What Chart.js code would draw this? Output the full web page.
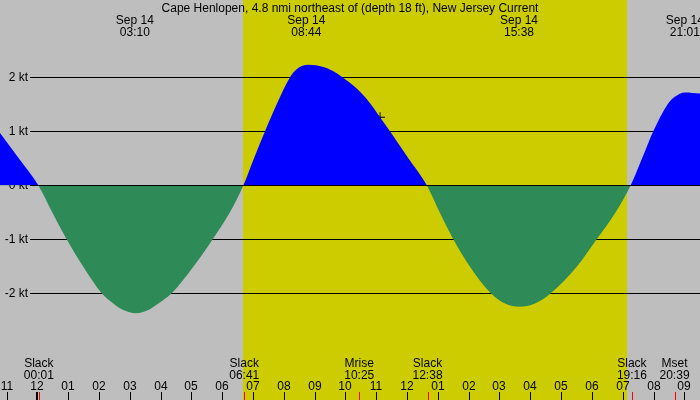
<!DOCTYPE html>
<html lang="en">
<head>
  <meta charset="UTF-8">
  <title>Cape Henlopen current</title>
  <script src="https://cdn.jsdelivr.net/npm/chart.js"></script>
  <style>
    body { margin: 0; background: #bebebe; }
    canvas { display: block; }
  </style>
</head>
<body>

<canvas id="tideChart" width="700" height="400"></canvas>

<script>
  const title = "Cape Henlopen, 4.8 nmi northeast of (depth 18 ft), New Jersey Current";
  const dateLabel = "Sep 14";

  // hours since Sep 14 00:00, current in knots
  const hours = [-1.211, -0.561, 0.032, 0.5, 0.954, 1.493, 2.09, 2.467, 2.791, 3.2, 3.603, 3.927, 4.362, 5.063, 5.693, 6.232, 6.69,
                 7.034, 7.391, 7.77, 8.202, 8.419, 8.796, 9.283, 9.607, 9.88, 10.367, 10.798, 11.123, 11.447, 12.042, 12.64,
                 13.074, 13.502, 14.044, 14.716, 15.18, 15.65, 16.154, 16.664, 17.507, 18.156, 18.75, 19.26,
                 19.63, 19.993, 20.48, 20.69, 21.02, 21.509];
  const speeds = [0.97, 0.47, 0, -0.52, -1.0, -1.51, -2.0, -2.19, -2.31, -2.37, -2.31, -2.19, -2.0, -1.51, -1.0, -0.52, 0,
                  0.5, 1.0, 1.5, 2.0, 2.15, 2.23, 2.19, 2.11, 2.01, 1.79, 1.52, 1.26, 1.0, 0.5, 0,
                  -0.52, -1.0, -1.51, -2.0, -2.19, -2.25, -2.19, -2.0, -1.51, -1.0, -0.52, 0,
                  0.5, 1.0, 1.52, 1.64, 1.72, 1.70];

  const maxTimes = ['03:10', '08:44', '15:38', '21:01'];
  const eventTimes = ['00:01', '06:41', '10:25', '12:38', '19:16', '20:39'];
  const eventNames = ['Slack', 'Slack', 'Mrise', 'Slack', 'Slack', 'Mset'];
  const tickHours = [-1, 0, 1, 2, 3, 4, 5, 6, 7, 8, 9, 10, 11, 12, 13, 14, 15, 16, 17, 18, 19, 20, 21];
  const tickLabels = ['11', '12', '01', '02', '03', '04', '05', '06', '07', '08', '09', '10',
                      '11', '12', '01', '02', '03', '04', '05', '06', '07', '08', '09'];
  const ktLevels = [2, 1, 0, -1, -2];
  const sunrise = '06:41';
  const sunset = '19:08';
  const nowMark = { x: 11.124, y: 1.26 };

  const toHours = s => { const p = s.split(':'); return +p[0] + p[1] / 60; };
  const font = '12px "Liberation Sans", Arial, sans-serif';

  const backdrop = {
    id: 'backdrop',
    beforeDraw(chart) {
      const { ctx, scales: { x } } = chart;
      ctx.save();
      ctx.fillStyle = '#bebebe';
      ctx.fillRect(0, 0, chart.width, chart.height);
      const x1 = Math.round(x.getPixelForValue(toHours(sunrise)));
      const x2 = Math.round(x.getPixelForValue(toHours(sunset)));
      ctx.fillStyle = '#cccc00';
      ctx.fillRect(x1, 0, x2 - x1, chart.height);
      ctx.restore();
    },
    beforeDatasetsDraw(chart) {
      const { ctx, scales: { y } } = chart;
      ctx.save();
      ctx.font = font;
      ctx.fillStyle = '#000';
      ctx.strokeStyle = '#000';
      ctx.lineWidth = 1;
      ctx.textAlign = 'right';
      ctx.textBaseline = 'middle';
      ktLevels.forEach(k => {
        const py = Math.round(y.getPixelForValue(k)) + 0.5;
        ctx.beginPath();
        ctx.moveTo(30, py);
        ctx.lineTo(chart.width, py);
        ctx.stroke();
        ctx.fillText(k + ' kt', 28, py);
      });
      ctx.restore();
    },
    afterDatasetsDraw(chart) {
      const { ctx, scales: { x, y } } = chart;
      ctx.save();
      ctx.strokeStyle = '#000';
      ctx.lineWidth = 1;
      const py = Math.round(y.getPixelForValue(0)) + 0.5;
      ctx.beginPath();
      ctx.moveTo(30, py);
      ctx.lineTo(chart.width, py);
      ctx.stroke();

      ctx.font = font;
      ctx.fillStyle = '#000';
      ctx.textAlign = 'center';
      ctx.textBaseline = 'alphabetic';
      ctx.fillText(title, chart.width / 2, 12);

      maxTimes.forEach(t => {
        const px = x.getPixelForValue(toHours(t));
        ctx.fillText(dateLabel, px, 24);
        ctx.fillText(t, px, 36);
      });

      eventTimes.forEach((t, i) => {
        const px = x.getPixelForValue(toHours(t)) + 1;
        ctx.fillText(eventNames[i], px, 367);
        ctx.fillText(t, px, 379);
      });

      tickHours.forEach((h, i) => {
        const px = Math.round(x.getPixelForValue(h));
        ctx.fillText(tickLabels[i], px, 390);
        if (h === 0) {
          ctx.fillRect(px - 1, 392, 2, 8);
        } else {
          ctx.fillRect(px, 392, 1, 8);
        }
      });

      ctx.fillStyle = '#ff0000';
      eventTimes.forEach(t => {
        const px = Math.round(x.getPixelForValue(toHours(t))) + 1;
        ctx.fillRect(px, 392, 1, 8);
      });
      ctx.restore();
    }
  };

  new Chart(document.getElementById('tideChart'), {
    type: 'line',
    data: {
      datasets: [{
        data: hours.map((h, i) => ({ x: h, y: speeds[i] })),
        borderWidth: 0,
        borderColor: 'transparent',
        pointRadius: 0,
        cubicInterpolationMode: 'monotone',
        fill: { target: 'origin', above: '#0000ff', below: '#2e8b57' }
      }, {
        data: [nowMark],
        showLine: false,
        pointStyle: 'cross',
        pointRadius: 5,
        borderColor: '#000',
        borderWidth: 1
      }]
    },
    options: {
      responsive: false,
      animation: false,
      devicePixelRatio: 1,
      layout: { padding: 0, autoPadding: false },
      plugins: { legend: { display: false }, tooltip: { enabled: false } },
      scales: {
        x: { type: 'linear', min: -1.211, max: 21.509, display: false },
        y: { min: -3.976, max: 3.431, display: false }
      }
    },
    plugins: [backdrop]
  });
</script>

</body>
</html>
